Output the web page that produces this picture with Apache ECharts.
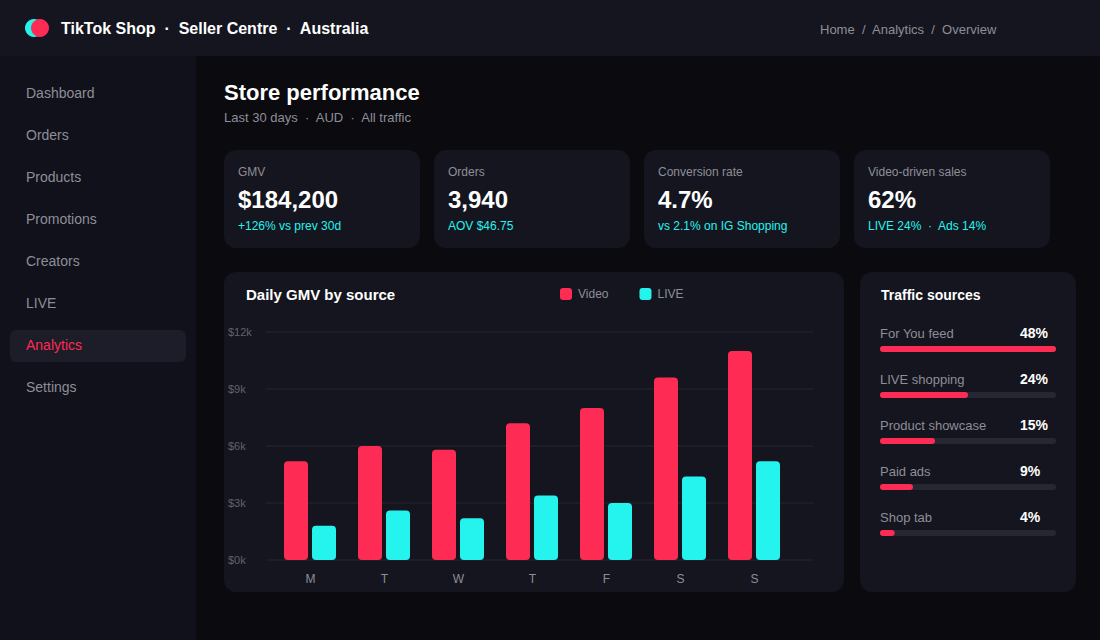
<!DOCTYPE html>
<html lang="en" style="height: 100%">
<head>
<meta charset="UTF-8">
<title>TikTok Shop Seller Centre</title>
<script src="https://cdn.jsdelivr.net/npm/echarts@6/dist/echarts.min.js"></script>
</head>
<body style="margin: 0; height: 100%; background: #0a0a0f">
<div id="main" style="width: 1100px; height: 640px"></div>
<script>
    var navItems = ['Dashboard', 'Orders', 'Products', 'Promotions', 'Creators', 'LIVE', 'Analytics', 'Settings'];
    var kpiLabels = ['GMV', 'Orders', 'Conversion rate', 'Video-driven sales'];
    var kpiValues = ['$184,200', '3,940', '4.7%', '62%'];
    var kpiSubs = ['+126% vs prev 30d', 'AOV $46.75', 'vs 2.1% on IG Shopping', 'LIVE 24%  ·  Ads 14%'];

    var days = ['M', 'T', 'W', 'T', 'F', 'S', 'S'];
    var videoGmv = [5200, 6000, 5800, 7200, 8000, 9600, 11000];
    var liveGmv = [1800, 2600, 2200, 3400, 3000, 4400, 5200];

    var sources = ['For You feed', 'LIVE shopping', 'Product showcase', 'Paid ads', 'Shop tab'];
    var sourceShare = [48, 24, 15, 9, 4];

    var family = '"Liberation Sans", Arial, sans-serif';
    var RED = '#fe2c55', CYAN = '#25f4ee', GREY = '#8e8e98', CARD = '#14151e';

    function box(x, y, w, h, r, fill) {
        return { type: 'rect', z: 0, shape: { x: x, y: y, width: w, height: h, r: r }, style: { fill: fill } };
    }
    function dot(cx, cy, r, fill) {
        return { type: 'circle', z: 0, shape: { cx: cx, cy: cy, r: r }, style: { fill: fill } };
    }
    function label(x, y, text, size, fill, bold) {
        return {
            type: 'text',
            z: 1,
            style: {
                x: x, y: y, text: text, fill: fill,
                font: (bold ? 'bold ' : '') + size + 'px ' + family,
                align: 'left', verticalAlign: 'middle'
            }
        };
    }

    // page chrome, drawn on the same surface as the charts
    var chrome = [
        box(0, 0, 1100, 56, 0, CARD),
        box(0, 56, 196, 584, 0, '#10111a'),
        dot(34, 28, 9, CYAN),
        dot(40, 28, 9, RED),
        label(61, 28, 'TikTok Shop  ·  Seller Centre  ·  Australia', 16, '#fff', true),
        label(820, 29, 'Home  /  Analytics  /  Overview', 13, GREY),
        box(10, 330, 176, 32, 6, '#1c1d28'),
        label(224, 92, 'Store performance', 22, '#fff', true),
        label(224, 117, 'Last 30 days  ·  AUD  ·  All traffic', 13, GREY),
        box(224, 272, 620, 320, 12, CARD),
        box(860, 272, 216, 320, 12, CARD),
        label(246, 294, 'Daily GMV by source', 15, '#fff', true),
        label(881, 295, 'Traffic sources', 14, '#fff', true)
    ];

    navItems.forEach(function (name, i) {
        chrome.push(label(26, 93 + i * 42, name, 14, name === 'Analytics' ? RED : GREY));
    });

    kpiLabels.forEach(function (name, i) {
        var x = 224 + i * 210;
        chrome.push(box(x, 150, 196, 98, 12, CARD));
        chrome.push(label(x + 14, 172, name, 12, GREY));
        chrome.push(label(x + 14, 199, kpiValues[i], 24, '#fff', true));
        chrome.push(label(x + 14, 226, kpiSubs[i], 12, CYAN));
    });

    sources.forEach(function (name, i) {
        chrome.push(label(880, 333 + i * 46, name, 13, GREY));
        chrome.push(label(1020, 333 + i * 46, sourceShare[i] + '%', 14, '#fff', true));
    });

    var myChart = echarts.init(document.getElementById('main'), null, { renderer: 'svg' });
    myChart.setOption({
        backgroundColor: '#0a0a0f',
        animation: false,
        graphic: { elements: chrome },
        legend: {
            left: 555,
            top: 283,
            itemWidth: 12,
            itemHeight: 12,
            itemGap: 31,
            icon: 'roundRect',
            data: ['Video', 'LIVE'],
            textStyle: { color: GREY, fontSize: 12, fontFamily: family, padding: [0, 0, 0, 1] }
        },
        // grid 0 holds the bars, grid 1 the wider gridlines and $ labels, grid 2 the traffic bars
        grid: [
            { left: 273, top: 332, width: 518, height: 228 },
            { left: 266, top: 332, width: 547, height: 228 },
            { left: 880, top: 326, width: 176, height: 230 }
        ],
        xAxis: [{
            type: 'category',
            gridIndex: 0,
            data: days,
            axisLine: { show: false },
            axisTick: { show: false },
            axisLabel: { color: GREY, fontSize: 12, fontFamily: family, margin: 13, padding: [0, 0, 0, 1] }
        }, {
            type: 'value',
            gridIndex: 1,
            show: false
        }, {
            type: 'value',
            gridIndex: 2,
            min: 0,
            max: 48,
            show: false
        }],
        yAxis: [{
            type: 'value',
            gridIndex: 0,
            min: 0,
            max: 12000,
            interval: 3000,
            show: false
        }, {
            type: 'value',
            gridIndex: 1,
            min: 0,
            max: 12000,
            interval: 3000,
            axisLine: { show: false },
            axisTick: { show: false },
            splitLine: { lineStyle: { color: '#1c1d27', width: 2 } },
            axisLabel: {
                color: '#62626a',
                fontSize: 11,
                fontFamily: family,
                align: 'left',
                margin: 38,
                formatter: function (v) { return '$' + (v / 1000) + 'k'; }
            }
        }, {
            type: 'category',
            gridIndex: 2,
            inverse: true,
            data: sources,
            show: false
        }],
        series: [{
            name: 'Video',
            type: 'bar',
            xAxisIndex: 0,
            yAxisIndex: 0,
            data: videoGmv,
            barWidth: 24,
            barGap: '16.7%',
            itemStyle: { color: RED, borderRadius: 4 }
        }, {
            name: 'LIVE',
            type: 'bar',
            xAxisIndex: 0,
            yAxisIndex: 0,
            data: liveGmv,
            barWidth: 24,
            barGap: '16.7%',
            itemStyle: { color: CYAN, borderRadius: 4 }
        }, {
            name: 'Traffic',
            type: 'bar',
            xAxisIndex: 2,
            yAxisIndex: 2,
            data: sourceShare,
            barWidth: 6,
            showBackground: true,
            backgroundStyle: { color: '#262732', borderRadius: 3 },
            itemStyle: { color: RED, borderRadius: 3 }
        }]
    });
</script>
</body>
</html>
